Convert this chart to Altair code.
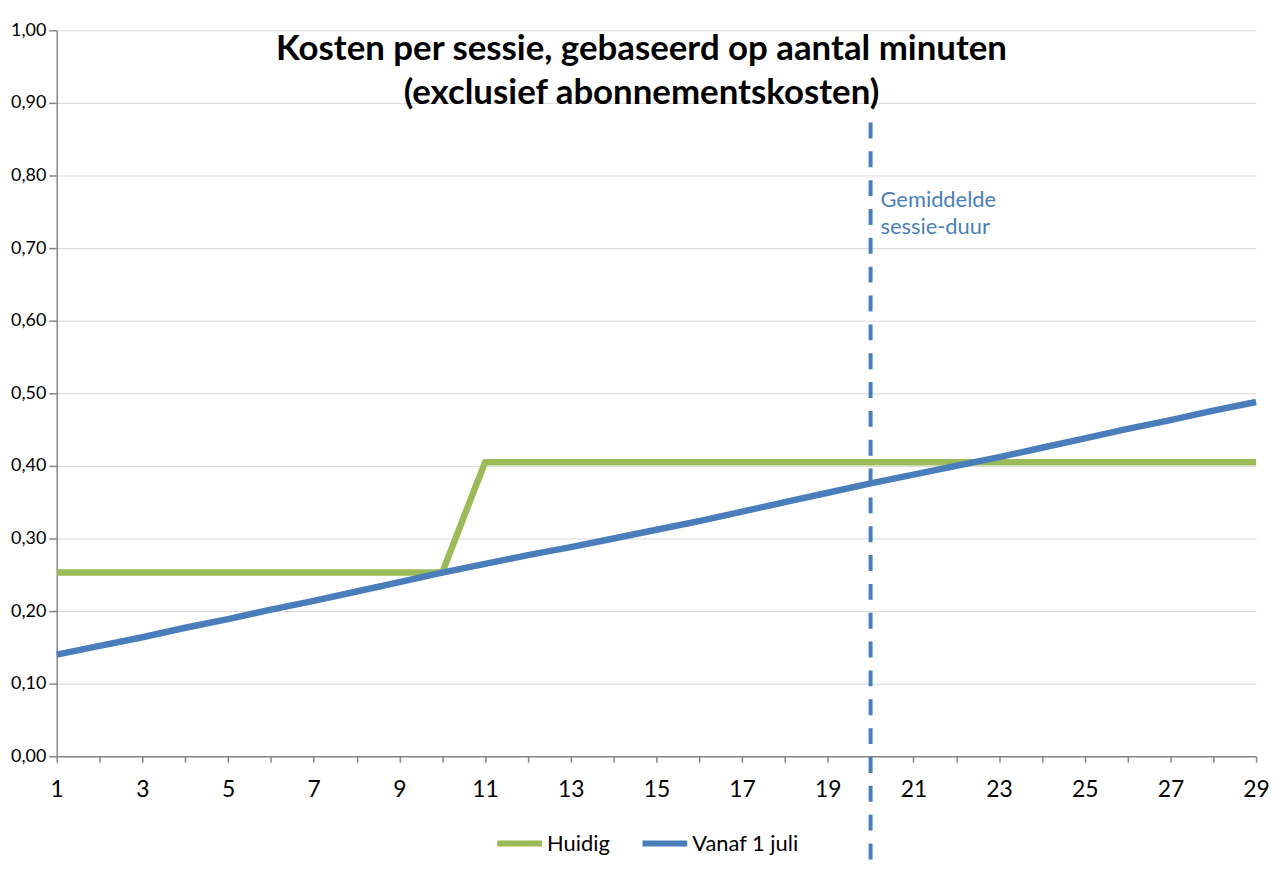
import altair as alt
import pandas as pd

# ---- data ----
minuten = [1, 2, 3, 4, 5, 6, 7, 8, 9, 10, 11, 12, 13, 14, 15,
           16, 17, 18, 19, 20, 21, 22, 23, 24, 25, 26, 27, 28, 29]
huidig = [0.253, 0.253, 0.253, 0.253, 0.253, 0.253, 0.253, 0.253, 0.253, 0.253,
          0.405, 0.405, 0.405, 0.405, 0.405, 0.405, 0.405, 0.405, 0.405, 0.405,
          0.405, 0.405, 0.405, 0.405, 0.405, 0.405, 0.405, 0.405, 0.405]
vanaf_1_juli = [0.140, 0.152, 0.164, 0.177, 0.189, 0.202, 0.214, 0.227, 0.240, 0.253,
                0.265, 0.277, 0.288, 0.300, 0.312, 0.324, 0.337, 0.350, 0.363, 0.376,
                0.388, 0.400, 0.412, 0.425, 0.438, 0.451, 0.463, 0.476, 0.488]
reeksen = ["Huidig", "Vanaf 1 juli"]
kleuren = ["#9BBB59", "#4A7EBB"]
y_ticks = [0.0, 0.1, 0.2, 0.3, 0.4, 0.5, 0.6, 0.7, 0.8, 0.9, 1.0]
x_ticks = minuten

gemiddelde_duur = [20]
lijn_boven = [0.873]
lijn_onder = [-0.149]
annotatie_y = [0.780]
annotatie_tekst = ["Gemiddelde\nsessie-duur"]

titel = ["Kosten per sessie, gebaseerd op aantal minuten",
         "(exclusief abonnementskosten)"]

FONT = "Lato"

df = pd.DataFrame({
    "minuten": minuten + minuten,
    "kosten": huidig + vanaf_1_juli,
    "reeks": [reeksen[0]] * len(minuten) + [reeksen[1]] * len(minuten),
})
df_lijn = pd.DataFrame({"x": gemiddelde_duur, "y": lijn_boven, "y2": lijn_onder})
df_tekst = pd.DataFrame({"x": gemiddelde_duur, "y": annotatie_y, "t": annotatie_tekst})

x_scale = alt.Scale(domain=[1, 29], nice=False, zero=False)
y_scale = alt.Scale(domain=[0, 1], nice=False)

lijnen = alt.Chart(df).mark_line(strokeWidth=6.5, strokeJoin="round").encode(
    x=alt.X("minuten:Q", scale=x_scale,
            axis=alt.Axis(values=x_ticks, title=None, grid=False,
                          labelExpr="datum.value % 2 == 1 ? datum.label : ''",
                          labelFontSize=23, labelColor="#000000", labelFont=FONT,
                          labelPadding=16, tickSize=6, labelFlush=False)),
    y=alt.Y("kosten:Q", scale=y_scale,
            axis=alt.Axis(values=y_ticks, title=None, grid=True,
                          labelExpr="replace(format(datum.value, '.2f'), '.', ',')",
                          labelFontSize=18, labelColor="#000000", labelFont=FONT,
                          labelPadding=3, tickSize=8)),
    color=alt.Color("reeks:N", scale=alt.Scale(domain=reeksen, range=kleuren),
                    legend=alt.Legend(title=None, orient="none", direction="horizontal",
                                      legendX=440, legendY=792,
                                      symbolType="stroke", symbolSize=2025,
                                      symbolStrokeWidth=6, labelFontSize=22,
                                      labelFont=FONT, labelColor="#000000",
                                      labelOffset=2, columnPadding=20)),
    order=alt.Order("minuten:Q"),
)

lijn = alt.Chart(df_lijn).mark_rule(strokeDash=[16, 13], strokeWidth=4,
                                    color="#4A7EBB").encode(
    x=alt.X("x:Q", scale=x_scale),
    y=alt.Y("y:Q", scale=y_scale),
    y2="y2:Q",
)

tekst = alt.Chart(df_tekst).mark_text(align="left", baseline="top", dx=10,
                                      fontSize=22, font=FONT, color="#4A7EBB",
                                      lineHeight=27, lineBreak="\n").encode(
    x=alt.X("x:Q", scale=x_scale),
    y=alt.Y("y:Q", scale=y_scale),
    text="t:N",
)

chart = alt.layer(lijnen, lijn, tekst).properties(
    width=1206,
    height=730,
    title=alt.TitleParams(titel, fontSize=35, font=FONT, fontWeight="bold",
                          color="#000000", anchor="middle", offset=-90, dx=-15,
                          lineHeight=44, frame="group"),
    padding={"top": 11, "left": 2, "right": 2, "bottom": 12},
).configure_view(stroke=None).configure_axis(
    domainColor="#868686", tickColor="#868686", gridColor="#d9d9d9",
    domainWidth=1.5, tickWidth=1.5,
)

chart.save("out.html", embed_options={"renderer": "svg", "actions": False})
